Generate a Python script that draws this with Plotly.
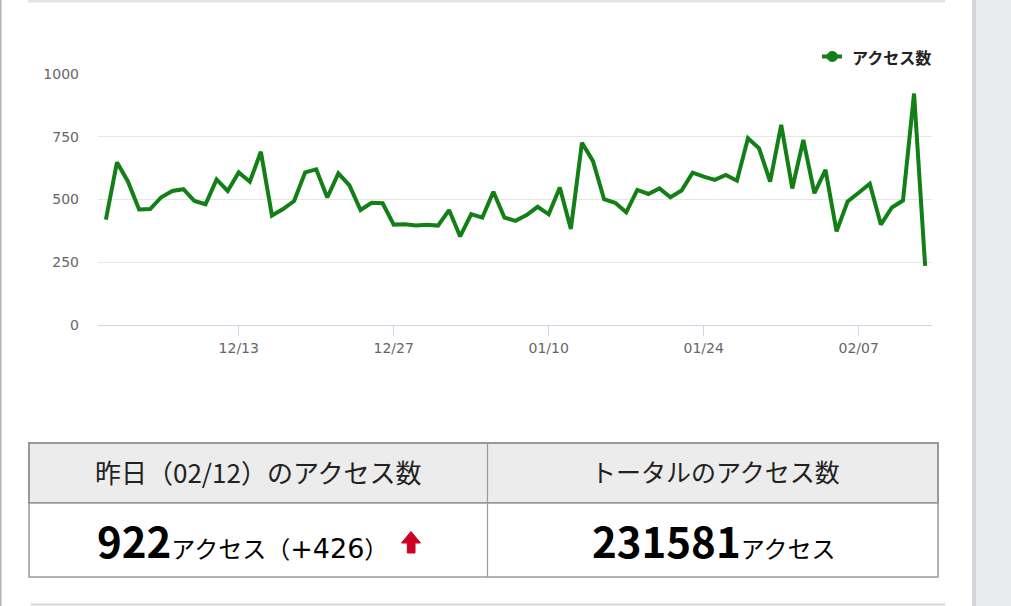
import pandas as pd
import plotly.graph_objects as go

# ---------------------------------------------------------------------------
# data
# ---------------------------------------------------------------------------
START_DATE = "2019-12-01"
VISITS = [
    420, 648, 571, 460, 462, 509, 534, 541, 494, 481,
    580, 534, 608, 571, 690, 436, 462, 494, 608, 620,
    508, 604, 556, 458, 487, 485, 400, 401, 396, 399,
    396, 458, 353, 442, 428, 531, 428, 415, 438, 471,
    441, 548, 383, 726, 653, 501, 487, 449, 538, 522,
    544, 509, 536, 607, 591, 578, 598, 575, 744, 704,
    571, 797, 544, 737, 525, 618, 373, 492, 527, 563,
    400, 468, 496, 922, 236,
]
DATES = pd.date_range(START_DATE, periods=len(VISITS), freq="D")
Y_TICKS = [0, 250, 500, 750, 1000]
X_TICK0 = "2019-12-13"
TOTAL_VISITS = 231581
SERIES_NAME = "アクセス数"

# ---------------------------------------------------------------------------
# style
# ---------------------------------------------------------------------------
W, H = 1011, 606
LINE_COLOR = "#137f17"
GRID_COLOR = "#e6e6e6"
AXIS_COLOR = "#ccd6eb"
LABEL_COLOR = "#666666"
TEXT_COLOR = "#222222"
BORDER_COLOR = "#999999"
CJK = "Noto Sans CJK JP"
TICK_FONT = "DejaVu Sans"


def px(x):
    return x / W


def py(y):
    return 1 - y / H


yesterday = DATES[-2].strftime("%m/%d")
y_val = VISITS[-2]
y_diff = VISITS[-2] - VISITS[-3]

fig = go.Figure()

fig.add_trace(go.Scatter(
    x=DATES, y=VISITS,
    mode="lines",
    name=SERIES_NAME,
    line=dict(color=LINE_COLOR, width=4),
    showlegend=False,
))

shapes = [
    # page background to the right of the card
    dict(type="rect", x0=px(976), x1=1, y0=0, y1=1, fillcolor="#e8ebee", line_width=0),
    dict(type="rect", x0=px(972), x1=px(976), y0=0, y1=1, fillcolor="#d2d5d9", line_width=0),
    # card borders
    dict(type="line", x0=px(0.7), x1=px(0.7), y0=0, y1=1, line=dict(color="#b0b0b0", width=1.5)),
    dict(type="line", x0=px(28), x1=px(945), y0=py(1), y1=py(1), line=dict(color="#e3e3e3", width=3)),
    dict(type="line", x0=px(31), x1=px(945), y0=py(604.5), y1=py(604.5), line=dict(color="#d6d6d6", width=2)),
    # table
    dict(type="rect", x0=px(29), x1=px(938), y0=py(503), y1=py(443),
         fillcolor="#ececec", line=dict(color=BORDER_COLOR, width=2)),
    dict(type="rect", x0=px(29), x1=px(938), y0=py(577), y1=py(503),
         fillcolor="white", line=dict(color=BORDER_COLOR, width=1.5)),
    dict(type="line", x0=px(487.5), x1=px(487.5), y0=py(577), y1=py(443),
         line=dict(color=BORDER_COLOR, width=1.2)),
    # red up arrow
    dict(type="path",
         path=(f"M {px(411)},{py(531.5)} L {px(420.5)},{py(543)} L {px(415)},{py(543)} "
               f"L {px(415)},{py(553)} L {px(407.3)},{py(553)} L {px(407.3)},{py(543)} "
               f"L {px(401.5)},{py(543)} Z"),
         fillcolor="#cc0022", line=dict(color="#cc0022", width=1)),
    # legend symbol
    dict(type="line", x0=px(822), x1=px(842), y0=py(56.5), y1=py(56.5),
         line=dict(color=LINE_COLOR, width=4)),
    dict(type="circle", x0=px(827), x1=px(837.5), y0=py(61.5), y1=py(51.5),
         fillcolor=LINE_COLOR, line=dict(color=LINE_COLOR, width=1)),
]

annotations = [
    dict(x=px(850), y=py(56.5), xanchor="left", yanchor="middle",
         text=f"<b>{SERIES_NAME}</b>", font=dict(family=CJK, size=16, color="#222222")),
    dict(x=px(258), y=py(471), xanchor="center", yanchor="middle",
         text=f"昨日（{yesterday}）のアクセス数", font=dict(family=CJK, size=26, color=TEXT_COLOR)),
    dict(x=px(715), y=py(471), xanchor="center", yanchor="middle",
         text="トータルのアクセス数", font=dict(family=CJK, size=25, color=TEXT_COLOR)),
    dict(x=px(95), y=py(539), xanchor="left", yanchor="middle",
         text=(f"<b>{y_val}</b><span style='font-size:24px'>アクセス（</span>"
               f"<span style='font-size:27px;font-family:DejaVu Sans'>+{y_diff}</span>"
               f"<span style='font-size:24px'>）</span>"),
         font=dict(family=CJK, size=42, color="#000000")),
    dict(x=px(714), y=py(539), xanchor="center", yanchor="middle",
         text=f"<b>{TOTAL_VISITS}</b><span style='font-size:24px'>アクセス</span>",
         font=dict(family=CJK, size=42, color="#000000")),
]
for a in annotations:
    a.update(xref="paper", yref="paper", showarrow=False)
for s in shapes:
    s.update(xref="paper", yref="paper", layer="below" if s["type"] == "rect" else "above")

x_start = DATES[0] - pd.Timedelta(hours=17.1)
x_end = DATES[-1] + pd.Timedelta(hours=14.9)

fig.update_layout(
    width=W, height=H,
    margin=dict(l=0, r=0, t=0, b=0, pad=0, autoexpand=False),
    paper_bgcolor="white",
    plot_bgcolor="rgba(0,0,0,0)",
    font=dict(family=TICK_FONT, color=LABEL_COLOR, size=14),
    shapes=shapes,
    annotations=annotations,
    xaxis=dict(
        domain=[px(98), px(932)],
        range=[x_start, x_end],
        type="date",
        tick0=X_TICK0,
        dtick=14 * 24 * 3600 * 1000,
        tickformat="%m/%d",
        showgrid=False,
        showline=True,
        linecolor=AXIS_COLOR,
        linewidth=1,
        ticks="outside",
        ticklen=10,
        tickcolor=AXIS_COLOR,
        tickfont=dict(family=TICK_FONT, size=14, color=LABEL_COLOR),
        zeroline=False,
        fixedrange=True,
        automargin=False,
    ),
    yaxis=dict(
        domain=[py(325), py(74)],
        range=[0, 1000],
        tickvals=Y_TICKS,
        gridcolor=GRID_COLOR,
        gridwidth=1,
        showline=False,
        zeroline=False,
        ticks="",
        ticklabelstandoff=18,
        tickfont=dict(family=TICK_FONT, size=14, color=LABEL_COLOR),
        fixedrange=True,
        automargin=False,
    ),
)

fig.write_html(
    "out.html",
    config={"displayModeBar": False},
    post_script="document.body.style.margin='0px';",
)
